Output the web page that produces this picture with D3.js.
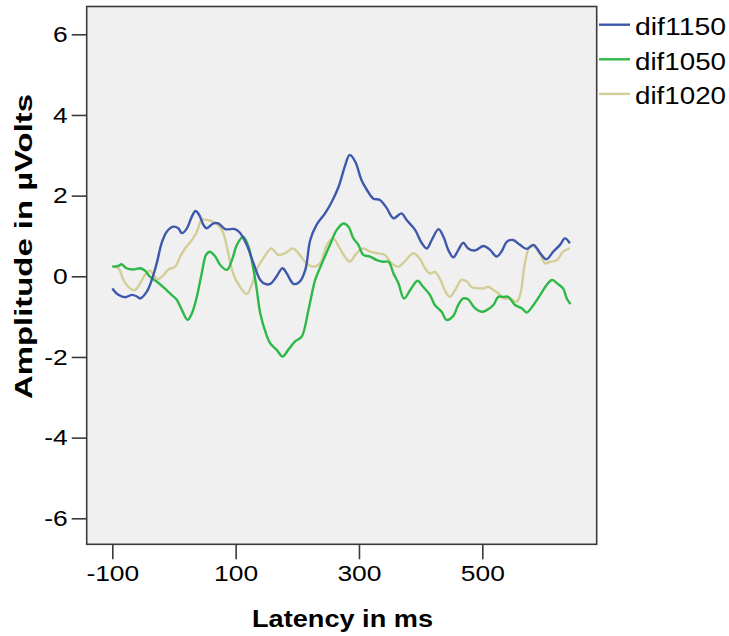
<!DOCTYPE html>
<html>
<head>
<meta charset="utf-8">
<script src="https://cdn.jsdelivr.net/npm/d3@7"></script>
<style>
  html, body { margin: 0; padding: 0; background: #ffffff; }
  svg { display: block; }
  text { font-family: "Liberation Sans", Arial, sans-serif; fill: #000; }
</style>
</head>
<body>
<svg id="chart" width="729" height="636"></svg>
<script>
// ---- Data ----
const seriesNames = ["dif1150", "dif1050", "dif1020"];

const dif1150Ms = [-100,-90,-79,-68,-60,-55,-44,-36,-28,-20,-12,-1,7,13,21,29,35,41,48,53,64,72,83,99,107,118,129,140,148,156,166,176,183,194,204,213,221,231,245,256,267,277,285,294,304,313,323,334,345,356,369,377,391,402,410,418,429,437,445,453,461,469,477,488,502,513,523,531,540,550,561,572,583,594,604,615,626,634,642];
const dif1150Val = [-0.30,-0.46,-0.52,-0.46,-0.50,-0.55,-0.38,-0.09,0.32,0.82,1.10,1.23,1.19,1.07,1.19,1.48,1.62,1.52,1.27,1.19,1.31,1.31,1.17,1.17,1.08,0.78,0.32,-0.09,-0.19,-0.19,-0.01,0.20,0.07,-0.19,-0.13,0.16,0.90,1.27,1.56,1.85,2.22,2.72,3.01,2.84,2.39,2.14,1.93,1.89,1.69,1.44,1.56,1.40,1.15,0.82,0.69,0.90,1.17,0.98,0.65,0.47,0.65,0.83,0.69,0.64,0.75,0.65,0.49,0.61,0.86,0.90,0.78,0.68,0.78,0.57,0.42,0.61,0.78,0.94,0.82];

const dif1050Ms = [-100,-90,-85,-77,-66,-55,-47,-39,-28,-15,-4,4,13,22,29,37,45,52,58,67,75,86,94,102,112,121,129,134,140,150,156,167,176,185,196,207,218,229,240,253,264,275,283,291,299,307,318,329,339,348,356,364,373,384,395,404,415,423,434,442,453,461,469,477,488,499,507,518,526,534,542,553,564,572,583,594,604,613,621,631,637,643];
const dif1050Val = [0.24,0.26,0.30,0.20,0.17,0.20,0.14,-0.01,-0.13,-0.30,-0.46,-0.57,-0.84,-1.08,-0.92,-0.51,0.07,0.53,0.61,0.49,0.28,0.16,0.40,0.78,0.98,0.73,0.16,-0.30,-0.92,-1.45,-1.66,-1.83,-1.99,-1.83,-1.62,-1.50,-0.84,-0.09,0.32,0.78,1.15,1.31,1.23,0.94,0.78,0.53,0.49,0.40,0.36,0.36,0.07,-0.17,-0.55,-0.32,-0.11,-0.26,-0.46,-0.71,-0.88,-1.08,-0.98,-0.71,-0.55,-0.57,-0.79,-0.88,-0.84,-0.71,-0.51,-0.51,-0.51,-0.71,-0.79,-0.90,-0.71,-0.46,-0.22,-0.09,-0.17,-0.30,-0.55,-0.69];

const dif1020Ms = [-100,-90,-82,-71,-63,-55,-47,-39,-31,-25,-17,-9,2,10,18,29,37,45,53,64,72,80,88,96,107,118,126,134,145,158,169,180,193,204,215,226,237,248,258,269,277,285,296,307,318,331,342,353,364,375,388,399,407,415,423,431,439,447,456,466,475,483,494,502,510,518,526,534,545,556,562,569,577,585,594,602,610,621,631,642];
const dif1020Val = [0.24,0.20,-0.09,-0.30,-0.34,-0.17,0.03,0.14,-0.01,-0.07,0.03,0.17,0.24,0.49,0.69,0.90,1.10,1.40,1.40,1.35,1.27,1.07,0.57,0.07,-0.26,-0.44,-0.22,0.16,0.45,0.69,0.53,0.57,0.69,0.53,0.32,0.24,0.32,0.78,0.94,0.69,0.49,0.36,0.57,0.69,0.61,0.57,0.53,0.32,0.24,0.38,0.57,0.43,0.20,0.07,0.11,-0.05,-0.34,-0.51,-0.34,-0.09,-0.13,-0.27,-0.30,-0.30,-0.26,-0.34,-0.42,-0.55,-0.55,-0.63,-0.42,0.32,0.73,0.73,0.53,0.32,0.36,0.40,0.61,0.69];

const xTickValues = [-100, 100, 300, 500];
const yTickValues = [-6, -4, -2, 0, 2, 4, 6];
const xTitle = "Latency in ms";
const yTitle = "Amplitude in µVolts";

// ---- Layout ----
const frame = { left: 86.7, right: 596.7, top: 6.5, bottom: 544.3 };
const colors = { dif1150: "#3E58AC", dif1050: "#2EB848", dif1020: "#D3CE97" };
const FONT = "'Liberation Sans', Arial, sans-serif";

const svg = d3.select("#chart");

// stretch text horizontally (the reference font is wider than Liberation Sans)
function stretch(sel, factor) {
  sel.each(function () {
    const w = this.getComputedTextLength();
    d3.select(this).attr("textLength", w * factor).attr("lengthAdjust", "spacingAndGlyphs");
  });
}

// x: -100 -> 112.3, 500 -> 482.3
const xPxPerMs = (482.3 - 112.3) / 600;
const x = d3.scaleLinear()
  .domain([-100 - (112.3 - frame.left) / xPxPerMs, -100 + (frame.right - 112.3) / xPxPerMs])
  .range([frame.left, frame.right]);

// y: 6 -> 34.3, -6 -> 518.3
const yPxPerUnit = (518.3 - 34.3) / 12;
const y = d3.scaleLinear()
  .domain([-6 - (frame.bottom - 518.3) / yPxPerUnit, 6 + (34.3 - frame.top) / yPxPerUnit])
  .range([frame.bottom, frame.top]);

// plot background
svg.append("rect")
  .attr("x", frame.left).attr("y", frame.top)
  .attr("width", frame.right - frame.left).attr("height", frame.bottom - frame.top)
  .attr("fill", "#F0F0F0");

// lines
const series = [
  { name: "dif1150", ms: dif1150Ms, val: dif1150Val },
  { name: "dif1050", ms: dif1050Ms, val: dif1050Val },
  { name: "dif1020", ms: dif1020Ms, val: dif1020Val }
];
const line = d3.line()
  .x(d => x(d[0]))
  .y(d => y(d[1]))
  .curve(d3.curveCatmullRom.alpha(0.5));

[series[2], series[1], series[0]].forEach(s => {
  const pts = s.ms.map((m, i) => [m, s.val[i]]);
  svg.append("path")
    .datum(pts)
    .attr("d", line)
    .attr("fill", "none")
    .attr("stroke", colors[s.name])
    .attr("stroke-width", 2.4)
    .attr("stroke-linejoin", "round");
});

// frame
svg.append("rect")
  .attr("x", frame.left).attr("y", frame.top)
  .attr("width", frame.right - frame.left).attr("height", frame.bottom - frame.top)
  .attr("fill", "none")
  .attr("stroke", "#3a3a3a")
  .attr("stroke-width", 1.6);

// axes
const fmt = d => String(d);
const yAxis = d3.axisLeft(y).tickValues(yTickValues).tickSize(15).tickPadding(4).tickFormat(fmt);
const gy = svg.append("g").attr("transform", `translate(${frame.left},0)`).call(yAxis);
gy.select(".domain").remove();
gy.selectAll(".tick line").attr("stroke", "#3a3a3a").attr("stroke-width", 1.6);
gy.selectAll(".tick text")
  .attr("font-size", 22).attr("font-family", FONT).attr("fill", "#000")
  .call(stretch, 1.2);

const xAxis = d3.axisBottom(x).tickValues(xTickValues).tickSize(15).tickPadding(6).tickFormat(fmt);
const gx = svg.append("g").attr("transform", `translate(0,${frame.bottom})`).call(xAxis);
gx.select(".domain").remove();
gx.selectAll(".tick line").attr("stroke", "#3a3a3a").attr("stroke-width", 1.6);
gx.selectAll(".tick text")
  .attr("font-size", 22).attr("font-family", FONT).attr("fill", "#000")
  .call(stretch, 1.2);

// axis titles
svg.append("text")
  .attr("x", 342.5).attr("y", 627)
  .attr("text-anchor", "middle")
  .attr("font-size", 23).attr("font-weight", "bold")
  .attr("textLength", 181).attr("lengthAdjust", "spacingAndGlyphs")
  .text(xTitle);

svg.append("text")
  .attr("transform", "translate(32,246.5) rotate(-90)")
  .attr("text-anchor", "middle")
  .attr("font-size", 23).attr("font-weight", "bold")
  .attr("textLength", 305).attr("lengthAdjust", "spacingAndGlyphs")
  .text(yTitle);

// legend
const legend = svg.append("g");
series.forEach((s, i) => {
  const ly = 24.7 + i * 34.6;
  legend.append("line")
    .attr("x1", 599).attr("x2", 630)
    .attr("y1", ly).attr("y2", ly)
    .attr("stroke", colors[s.name]).attr("stroke-width", 2.4);
  legend.append("text")
    .attr("x", 635).attr("y", ly + 10.5)
    .attr("font-size", 23)
    .attr("textLength", 91).attr("lengthAdjust", "spacingAndGlyphs")
    .text(s.name);
});
</script>
</body>
</html>
